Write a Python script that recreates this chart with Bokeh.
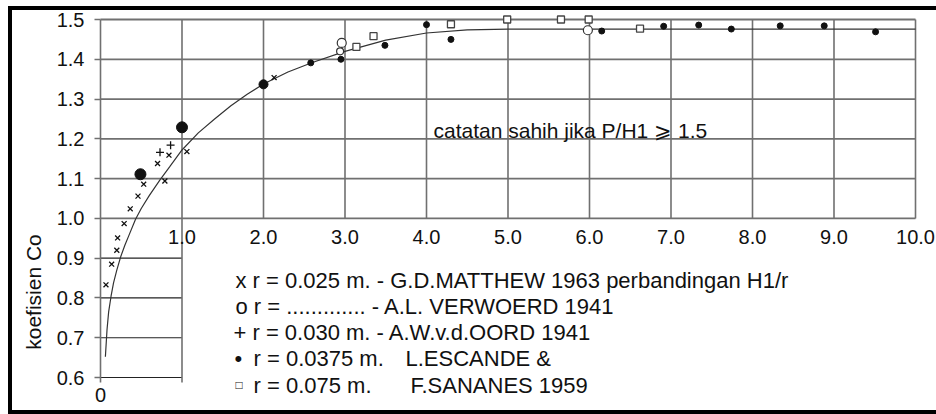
from math import pi

from bokeh.embed import file_html
from bokeh.models import FixedTicker, Label, LinearAxis, Range1d
from bokeh.plotting import figure
from bokeh.resources import INLINE

# ---------------------------------------------------------------- data
# axis ticks
y_ticks = [0.6, 0.7, 0.8, 0.9, 1.0, 1.1, 1.2, 1.3, 1.4, 1.5]
y_tick_labels = ["0.6", "0.7", "0.8", "0.9", "1.0", "1.1", "1.2", "1.3", "1.4", "1.5"]
x_ticks = [1, 2, 3, 4, 5, 6, 7, 8, 9, 10]
x_tick_labels = ["1.0", "2.0", "3.0", "4.0", "5.0", "6.0", "7.0", "8.0", "9.0", "10.0"]
x_origin_ticks = [0]
x_origin_labels = ["0"]

# grid: full-width rows above Co = 1.0, short rows below it
upper_rows = [1.0, 1.1, 1.2, 1.3, 1.4, 1.5]
lower_rows = [0.6, 0.7, 0.8, 0.9]
long_cols = [0, 1]
short_cols = [2, 3, 4, 5, 6, 7, 8, 9, 10]

# x  r = 0.025 m  (G.D. Matthew 1963)
matthew_x = [0.067, 0.137, 0.20, 0.21, 0.29, 0.365, 0.46, 0.53, 0.70, 0.79, 0.84, 1.06, 2.13]
matthew_y = [0.833, 0.885, 0.92, 0.951, 0.987, 1.024, 1.056, 1.086, 1.138, 1.094, 1.159, 1.168, 1.354]

# o  (A.L. Verwoerd 1941)
verwoerd_x = [2.96, 2.94, 5.98]
verwoerd_y = [1.441, 1.420, 1.473]

# +  r = 0.030 m  (A.W.v.d. Oord 1941)
oord_x = [0.73, 0.86]
oord_y = [1.166, 1.184]

# filled dots  r = 0.0375 m  (L. Escande & F. Sananes 1959)
escande_x = [0.49, 1.0, 2.0, 2.58, 2.95, 3.49, 4.0, 4.3, 6.15, 6.91, 7.34, 7.74, 8.34, 8.88, 9.51]
escande_y = [1.111, 1.229, 1.337, 1.391, 1.400, 1.435, 1.487, 1.450, 1.471, 1.483, 1.486, 1.476,
             1.484, 1.484, 1.469]

# open squares  r = 0.075 m  (L. Escande & F. Sananes 1959)
sananes_x = [3.14, 3.35, 4.30, 4.99, 5.65, 5.99, 6.62]
sananes_y = [1.431, 1.458, 1.488, 1.500, 1.500, 1.500, 1.477]

# mean curve Co against H1/r
curve_x = [0.06, 0.08, 0.10, 0.13, 0.16, 0.20, 0.25, 0.30, 0.35, 0.43, 0.50, 0.60, 0.73, 0.85,
           1.00, 1.20, 1.40, 1.60, 1.80, 2.00, 2.30, 2.60, 3.00, 3.50, 4.00, 4.50, 5.00, 10.0]
curve_y = [0.652, 0.720, 0.765, 0.805, 0.838, 0.870, 0.905, 0.933, 0.958, 0.998, 1.025, 1.058,
           1.097, 1.130, 1.172, 1.215, 1.250, 1.283, 1.312, 1.338, 1.368, 1.392, 1.420, 1.448,
           1.466, 1.474, 1.476, 1.476]

# ---------------------------------------------------------------- styles
FONT = "Liberation Sans"
INK = "#111111"
GRID = "#707070"
dot_sizes = [11, 11, 9] + [6] * 12

# page-pixel helpers: x = 0 sits at page x 100 (81.5 px per unit),
# Co = 1.5 at page y 19 (397.8 px per unit)
X0_PX, PX_PER_X = 100.0, 81.5
Y15_PX, PX_PER_Y = 19.0, 397.8


def at_x(px):
    return (px - X0_PX) / PX_PER_X


def at_y(py):
    return 1.5 - (py - Y15_PX) / PX_PER_Y


# the canvas starts at page (12, 10) and the frame fills all of it
CANVAS_W, CANVAS_H = 924, 400
col_bottom = at_y(382)

p = figure(
    frame_width=CANVAS_W, frame_height=CANVAS_H,
    x_range=Range1d(at_x(12), at_x(12 + CANVAS_W)),
    y_range=Range1d(at_y(10 + CANVAS_H), at_y(10)),
    min_border=0, x_axis_location=None, y_axis_location=None,
    output_backend="svg", toolbar_location=None,
)
p.outline_line_color = None
p.xgrid.visible = False
p.ygrid.visible = False
p.background_fill_color = "white"
p.border_fill_color = "white"
p.styles = {
    "margin-left": "8px", "margin-top": "6px",
    "border-left": "4px solid black", "border-top": "4px solid black",
    "border-bottom": "4px solid black",
}


def style_axis(ax, standoff, tick_out=0, size="21px"):
    ax.axis_line_color = None
    ax.minor_tick_line_color = None
    ax.major_tick_in = 0
    ax.major_tick_out = tick_out
    if tick_out == 0:
        ax.major_tick_line_color = None
    else:
        ax.major_tick_line_color = GRID
        ax.major_tick_line_width = 1.5
    ax.major_label_standoff = standoff
    ax.major_label_text_font = FONT
    ax.major_label_text_font_size = size
    ax.major_label_text_color = INK


# Co axis along x = 0, with short outward ticks
ya = LinearAxis(fixed_location=0, ticker=FixedTicker(ticks=y_ticks),
                major_label_overrides=dict(zip(y_ticks, y_tick_labels)))
style_axis(ya, standoff=10, tick_out=6, size="20px")
p.add_layout(ya, "left")

# H1/r labels hang under the Co = 1.0 row
xmid = LinearAxis(fixed_location=1.0, ticker=FixedTicker(ticks=x_ticks),
                  major_label_overrides=dict(zip(x_ticks, x_tick_labels)))
style_axis(xmid, standoff=12, size="20px")
p.add_layout(xmid, "below")

# origin label under the bottom of the first column
xorg = LinearAxis(fixed_location=col_bottom, ticker=FixedTicker(ticks=x_origin_ticks),
                  major_label_overrides=dict(zip(x_origin_ticks, x_origin_labels)))
style_axis(xorg, standoff=5, size="20px")
p.add_layout(xorg, "below")

# grid lines
p.segment(x0=[0] * len(upper_rows), y0=upper_rows, x1=[10] * len(upper_rows), y1=upper_rows,
          line_color=GRID, line_width=1.8)
p.segment(x0=[0] * len(lower_rows), y0=lower_rows, x1=[1] * len(lower_rows), y1=lower_rows,
          line_color="#222222", line_width=1.2)
p.segment(x0=long_cols, y0=[col_bottom] * len(long_cols), x1=long_cols, y1=[1.5] * len(long_cols),
          line_color=GRID, line_width=1.6)
p.segment(x0=short_cols, y0=[1.0] * len(short_cols), x1=short_cols, y1=[1.5] * len(short_cols),
          line_color=GRID, line_width=1.6)

# mean curve
p.line(curve_x, curve_y, line_color="#333333", line_width=1.2)

# measurements
p.scatter(matthew_x, matthew_y, marker="x", size=7, line_color=INK, line_width=1.3)
p.scatter(oord_x, oord_y, marker="cross", size=8, line_color=INK, line_width=1.3)
p.scatter(verwoerd_x, verwoerd_y, marker="circle", size=[9, 7, 9], fill_color="white",
          line_color="#333333", line_width=1.2)
p.scatter(escande_x, escande_y, marker="circle", size=dot_sizes, fill_color=INK, line_color=INK)
p.scatter(sananes_x, sananes_y, marker="square", size=7, fill_color="white",
          line_color="#444444", line_width=1.3)


def text(s, px, py, size="22px", **kw):
    p.add_layout(Label(x=at_x(px), y=at_y(py), text=s, text_font=FONT,
                       text_font_size=size, text_color=INK, text_baseline="alphabetic", **kw))


# axis title
text("koefisien Co", 33, 291.5, size="21px", angle=pi / 2, text_align="center")

# validity note
text("catatan sahih jika P/H1 \u2a7e 1.5", 433, 130, size="21px")

# key
text("x r = 0.025 m. - G.D.MATTHEW 1963 perbandingan H1/r", 235, 279.5)
text("o r = ............. - A.L. VERWOERD 1941", 235, 305.8)
text("+ r = 0.030 m. - A.W.v.d.OORD 1941", 233, 332.1)
text("\u2022", 234, 358.4)
text("r = 0.0375 m.", 253, 358.4)
text("L.ESCANDE &", 405, 358.4)
text("\u25a1", 235, 384.7, size="12px")
text("r = 0.075 m.", 253, 384.7)
text("F.SANANES 1959", 410, 384.7)

open("out.html", "w").write(file_html(p, INLINE))
